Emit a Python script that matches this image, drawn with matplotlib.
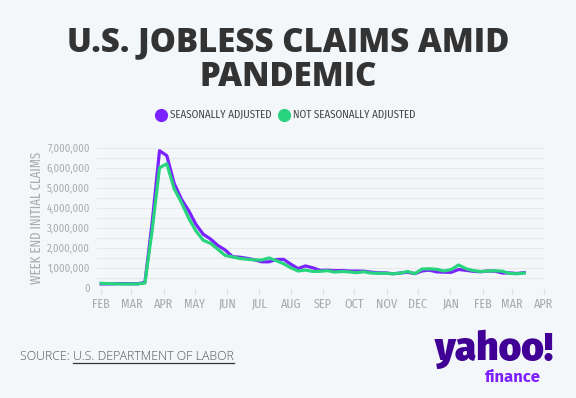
import matplotlib
matplotlib.use('Agg')
import matplotlib.pyplot as plt
from matplotlib.lines import Line2D
import numpy as np
import pandas as pd

# weekly initial claims, thousands (week ending Saturday)
weeks = pd.date_range('2020-02-01', '2021-03-13', freq='7D')
sa = [202, 204, 215, 219, 217, 211, 282, 3307, 6867, 6615, 5237, 4442, 3867,
      3176, 2687, 2446, 2126, 1901, 1566, 1540, 1482, 1413, 1310, 1308, 1422,
      1435, 1191, 971, 1104, 1011, 881, 893, 866, 873, 849, 845, 842, 791, 758,
      757, 711, 748, 787, 716, 853, 892, 806, 790, 784, 926, 886, 836, 812, 848,
      841, 749, 754, 725, 770]
nsa = [234, 218, 205, 199, 199, 201, 251, 2920, 6015, 6211, 4971, 4282, 3489,
       2849, 2384, 2232, 1935, 1627, 1554, 1475, 1439, 1403, 1399, 1503, 1370,
       1215, 1012, 850, 896, 828, 833, 866, 796, 825, 804, 767, 812, 748, 735,
       738, 710, 743, 827, 720, 947, 961, 936, 853, 922, 1151, 968, 874, 824,
       848, 863, 838, 732, 712, 746]
series_names = ['SEASONALLY ADJUSTED', 'NOT SEASONALLY ADJUSTED']
month_ticks = pd.date_range('2020-02-01', '2021-04-01', freq='MS')
month_labels = [d.strftime('%b').upper() for d in month_ticks]

BG = '#f4f7fa'
PURPLE = '#7a22ff'
GREEN = '#2ad47f'
GRAY = '#a9abb0'
NARROW = ['Fira Sans Condensed', 'Asap Condensed', 'DejaVu Sans']
XNARROW = ['Fira Sans Extra Condensed', 'Barlow Condensed', 'DejaVu Sans']
HEAVY = ['Fira Sans', 'Open Sans', 'DejaVu Sans']

W, H = 576, 398
def fx(px):
    return px / W
def fy(py):
    return 1 - py / H

fig = plt.figure(figsize=(5.76, 3.98), dpi=100, facecolor=BG)

title_font = ['Open Sans', 'DejaVu Sans']
fig.text(0.5, fy(38.5), 'U.S. JOBLESS CLAIMS AMID', ha='center', va='center_baseline',
         fontsize=23.8, fontweight='heavy', color='#333333', family=title_font)
fig.text(0.5, fy(73), 'PANDEMIC', ha='center', va='center_baseline',
         fontsize=23.8, fontweight='heavy', color='#333333', family=title_font)

# legend
for cx, tx, name, col in [(161, 170, series_names[0], PURPLE), (284, 293, series_names[1], GREEN)]:
    fig.add_artist(Line2D([fx(cx)], [fy(115)], marker='o', markersize=8.5, color=col,
                          transform=fig.transFigure))
    fig.text(fx(tx), fy(115), name, ha='left', va='center', fontsize=7.9,
             color='#444444', family=NARROW)

ax = fig.add_axes([fx(97), fy(288), 447 / W, 140 / H])
ax.set_facecolor(BG)
ax.plot(weeks, np.array(sa) * 1000, color=PURPLE, lw=2.3)
ax.plot(weeks, np.array(nsa) * 1000, color=GREEN, lw=2.3)

ax.set_xlim(pd.Timestamp('2020-01-28'), pd.Timestamp('2021-04-01'))
ax.set_ylim(0, 7000000)
ax.set_yticks(np.arange(0, 7000001, 1000000))
ax.set_yticklabels(['0'] + [f'{v:,}' for v in range(1000000, 7000001, 1000000)])
ax.set_yticks(np.arange(0, 7000001, 500000), minor=True)
ax.grid(which='both', axis='y', color='#e6e8ec', lw=0.8)
ax.set_axisbelow(True)
ax.set_xticks(month_ticks)
ax.set_xticklabels(month_labels)
for s in ax.spines.values():
    s.set_visible(False)
ax.tick_params(axis='y', which='both', length=0, pad=5, labelsize=7.6, labelcolor=GRAY)
ax.tick_params(axis='x', length=4, color='#e0e2e6', pad=3, labelsize=9.5, labelcolor=GRAY)
for lab in ax.get_yticklabels():
    lab.set_family(NARROW)
for lab in ax.get_xticklabels():
    lab.set_family(XNARROW)
ax.set_ylabel('WEEK END INITIAL CLAIMS', fontsize=10, color=GRAY, family=XNARROW, labelpad=2)

# source line with underlined link text
src_font = ['Open Sans', 'DejaVu Sans']
t1 = fig.text(fx(20), fy(357), 'SOURCE: ', ha='left', va='center', fontsize=8.9,
              fontweight='light', color='#555555', family=src_font)
fig.canvas.draw()
r = fig.canvas.get_renderer()
bb = t1.get_window_extent(r)
t2 = fig.text(bb.x1 / W, fy(357), 'U.S. DEPARTMENT OF LABOR', ha='left', va='center', fontsize=8.9,
              fontweight='light', color='#555555', family=src_font)
bb2 = t2.get_window_extent(r)
fig.add_artist(Line2D([bb2.x0 / W, bb2.x1 / W], [fy(362.5)] * 2,
                      color='#333333', lw=0.9, transform=fig.transFigure))

# logo
fig.text(fx(494), fy(345), 'yahoo!', ha='center', va='center_baseline', fontsize=28,
         fontweight='black', color='#410095', family=HEAVY)
fig.text(fx(513), fy(375.5), 'finance', ha='center', va='center_baseline', fontsize=12,
         fontweight='bold', color='#7e1fff', family=HEAVY)

fig.savefig('out.png', dpi=100, facecolor=BG)
